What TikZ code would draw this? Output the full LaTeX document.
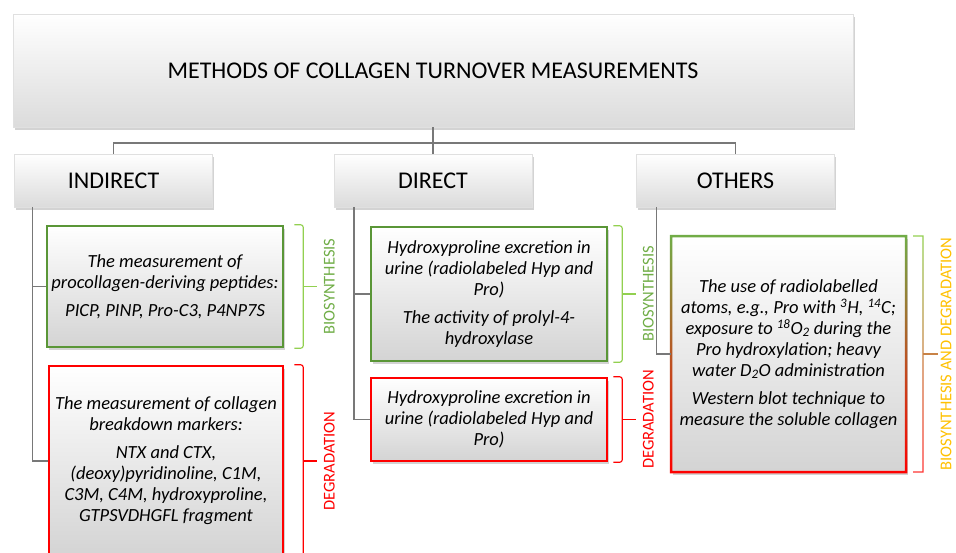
\documentclass[tikz,border=0pt]{standalone}
\usepackage{fontspec}
\setmainfont{Carlito}
\usetikzlibrary{shadows}
\definecolor{boxgreen}{RGB}{90,150,55}
\definecolor{bracegreen}{RGB}{146,208,80}
\definecolor{labelgreen}{RGB}{112,173,71}
\definecolor{boxred}{RGB}{255,0,0}
\definecolor{labelgold}{RGB}{255,192,0}
\definecolor{braceorange}{RGB}{200,130,70}
\definecolor{treegray}{RGB}{120,120,120}
\tikzset{
  headbox/.style={draw=black!12, top color=white, bottom color=black!14, inner sep=0pt,
    drop shadow={shadow xshift=1.5pt, shadow yshift=-2.5pt, opacity=.35},
    font=\fontsize{24}{28}\selectfont},
  methodbox/.style={line width=2.5pt, top color=white, bottom color=black!17, inner sep=0pt,
    drop shadow={shadow xshift=1.5pt, shadow yshift=-2.5pt, opacity=.35},
    align=center, font=\itshape\fontsize{18.5}{21}\selectfont},
  biobox/.style={methodbox, draw=boxgreen},
  degbox/.style={methodbox, draw=boxred},
  tree/.style={treegray, line width=1.6pt},
  brace/.style={line width=1.1pt, rounded corners=2.5pt},
  sidelabel/.style={rotate=90, font=\fontsize{16.5}{18}\selectfont}
}
\newcommand{\sidebrace}[3]{%
  \draw[brace,#2] ([xshift=#3]#1.north east) -- ([xshift=#3+9pt]#1.north east)
    -- ([xshift=#3+9pt]#1.south east) -- ([xshift=#3]#1.south east);
  \draw[brace,#2] ([xshift=#3+9pt]#1.east) -- ([xshift=#3+23pt]#1.east);}
\begin{document}
\begin{tikzpicture}[x=1pt,y=-1pt]
  \path[use as bounding box, clip] (0,0) rectangle (956,552);
  \node[headbox, minimum width=840pt, minimum height=113pt] (title) at (433,70.5)
    {METHODS OF COLLAGEN TURNOVER MEASUREMENTS};
  \node[headbox, minimum width=198pt, minimum height=53pt] (ind) at (113.5,180.5) {INDIRECT};
  \node[headbox, minimum width=198pt, minimum height=53pt] (dir) at (433,180.5) {DIRECT};
  \node[headbox, minimum width=198pt, minimum height=53pt] (oth) at (735.5,180.5) {OTHERS};

  \coordinate (hub) at (433,143);
  \draw[tree] (title.south) -- (dir.north);
  \draw[tree] (ind.north) |- (hub) -| (oth.north);

  \node[biobox, minimum width=236pt, minimum height=121pt] (indbio) at (165,286.5)
    {The measurement of\\procollagen-deriving peptides:\\[7pt]PICP, PINP, Pro-C3, P4NP7S};
  \node[degbox, minimum width=234pt, minimum height=190pt] (inddeg) at (166,461)
    {The measurement of collagen\\breakdown markers:\\[7pt]NTX and CTX,\\(deoxy)pyridinoline, C1M,\\C3M, C4M, hydroxyproline,\\GTPSVDHGFL fragment};
  \node[biobox, minimum width=236pt, minimum height=134pt] (dirbio) at (489,294)
    {Hydroxyproline excretion in\\urine (radiolabeled Hyp and\\Pro)\\[7pt]The activity of prolyl-4-\\hydroxylase};
  \node[degbox, minimum width=236pt, minimum height=83pt] (dirdeg) at (489,419.5)
    {Hydroxyproline excretion in\\urine (radiolabeled Hyp and\\Pro)};
  \node[methodbox, outer sep=0pt, minimum width=235pt, minimum height=236pt] (othbox) at (788.5,354)
    {The use of radiolabelled\\atoms, e.g., Pro with \textsuperscript{3}H, \textsuperscript{14}C;\\exposure to \textsuperscript{18}O\textsubscript{2} during the\\Pro hydroxylation; heavy\\water D\textsubscript{2}O administration\\[7pt]Western blot technique to\\measure the soluble collagen};
  \begin{scope}
    \clip ([xshift=-1.25pt,yshift=1.25pt]othbox.north west) rectangle ([xshift=1.25pt,yshift=-1.25pt]othbox.north east)
      ([xshift=-1.25pt,yshift=1.25pt]othbox.south west) rectangle ([xshift=1.25pt,yshift=-1.25pt]othbox.south east)
      ([xshift=-1.25pt,yshift=1.25pt]othbox.north west) rectangle ([xshift=1.25pt,yshift=-1.25pt]othbox.south west)
      ([xshift=-1.25pt,yshift=1.25pt]othbox.north east) rectangle ([xshift=1.25pt,yshift=-1.25pt]othbox.south east);
    \shade[top color=labelgreen, bottom color=boxred]
      ([xshift=-2pt,yshift=2pt]othbox.north west) rectangle ([xshift=2pt,yshift=-2pt]othbox.south east);
  \end{scope}

  \draw[tree] ([xshift=18pt]ind.south west) |- (indbio.west);
  \draw[tree] ([xshift=18pt]ind.south west) |- (inddeg.west);
  \draw[tree] ([xshift=20pt]dir.south west) |- (dirbio.west);
  \draw[tree] ([xshift=20pt]dir.south west) |- (dirdeg.west);
  \draw[tree] ([xshift=20pt]oth.south west) |- (othbox.west);

  \sidebrace{indbio}{bracegreen}{10pt}
  \sidebrace{inddeg}{boxred}{10pt}
  \sidebrace{dirbio}{bracegreen}{5pt}
  \sidebrace{dirdeg}{boxred}{5pt}
  \begin{scope}
    \clip ([xshift=7pt,yshift=.55pt]othbox.north east) rectangle ([xshift=17.55pt,yshift=-.55pt]othbox.north east)
      ([xshift=16.45pt,yshift=.55pt]othbox.north east) rectangle ([xshift=17.55pt,yshift=-.55pt]othbox.south east)
      ([xshift=7pt,yshift=.55pt]othbox.south east) rectangle ([xshift=17.55pt,yshift=-.55pt]othbox.south east);
    \shade[top color=bracegreen, bottom color=boxred!80]
      ([xshift=5pt,yshift=2pt]othbox.north east) rectangle ([xshift=20pt,yshift=-2pt]othbox.south east);
  \end{scope}
  \draw[brace, braceorange] ([xshift=17pt]othbox.east) -- ([xshift=32pt]othbox.east);

  \node[sidelabel, labelgreen] (indbiolab) at ([xshift=45pt]indbio.east) {BIOSYNTHESIS};
  \node[sidelabel, boxred] (inddeglab) at ([xshift=45pt]inddeg.east) {DEGRADATION};
  \node[sidelabel, labelgreen] (dirbiolab) at ([xshift=40pt]dirbio.east) {BIOSYNTHESIS};
  \node[sidelabel, boxred] (dirdeglab) at ([xshift=40pt]dirdeg.east) {DEGRADATION};
  \node[sidelabel, labelgold] (othlab) at ([xshift=40pt]othbox.east) {BIOSYNTHESIS AND DEGRADATION};
\end{tikzpicture}
\end{document}
